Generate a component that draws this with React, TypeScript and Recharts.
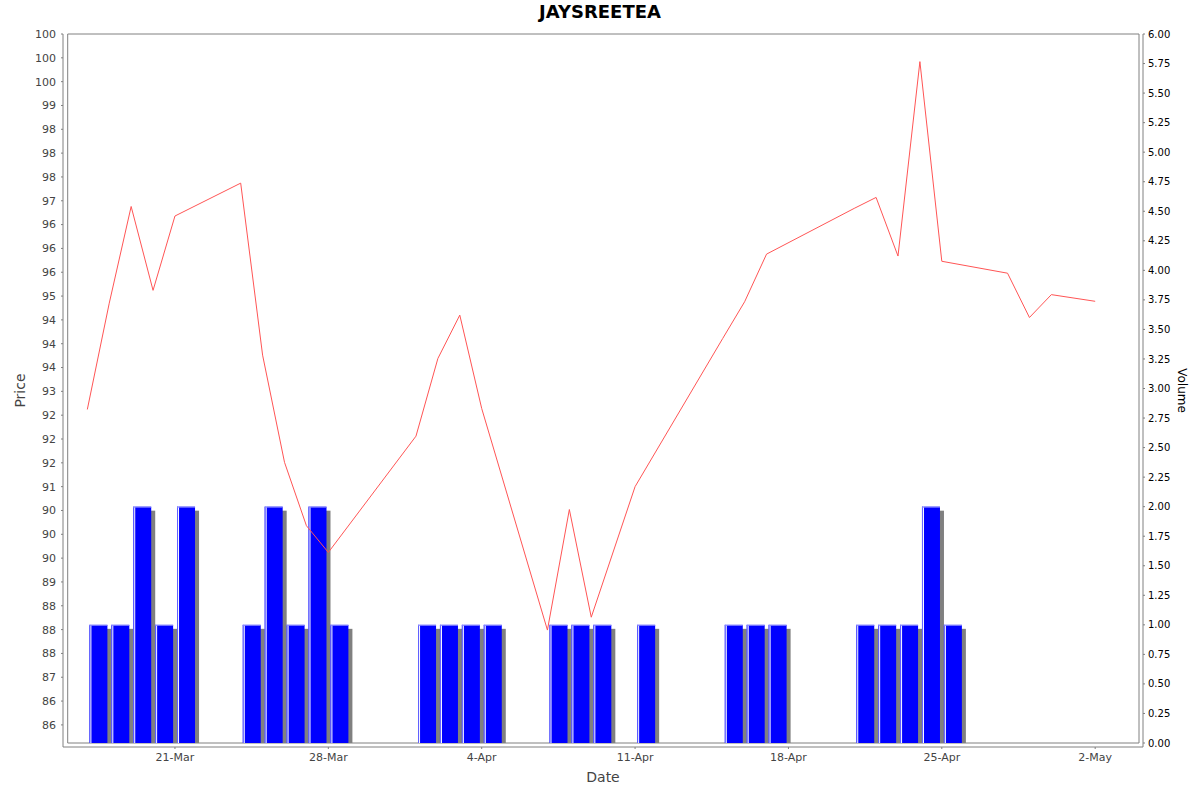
import { ComposedChart, Bar, Line, XAxis, YAxis, ReferenceArea } from 'recharts'

// trading days, closing price and volume
const DATES = [
  '2025-03-17', '2025-03-18', '2025-03-19', '2025-03-20', '2025-03-21',
  '2025-03-24', '2025-03-25', '2025-03-26', '2025-03-27', '2025-03-28',
  '2025-04-01', '2025-04-02', '2025-04-03', '2025-04-04',
  '2025-04-07', '2025-04-08', '2025-04-09', '2025-04-11',
  '2025-04-15', '2025-04-16', '2025-04-17',
  '2025-04-21', '2025-04-22', '2025-04-23', '2025-04-24', '2025-04-25',
  '2025-04-28', '2025-04-29', '2025-04-30', '2025-05-02',
]
const PRICES = [
  92.62, 94.85, 96.88, 95.12, 96.68,
  97.37, 93.76, 91.51, 90.18, 89.62,
  92.06, 93.69, 94.6, 92.64,
  87.99, 90.52, 88.26, 91.0,
  94.11, 94.88, 95.88,
  96.84, 97.07, 95.84, 99.92, 95.73,
  95.48, 94.55, 95.03, 94.89,
]
const VOLUMES = [
  1, 1, 2, 1, 2,
  1, 2, 1, 2, 1,
  1, 1, 1, 1,
  1, 1, 1, 1,
  1, 1, 1,
  1, 1, 1, 2, 1,
  0, 0, 0, 0,
]

const DATE_TICKS = ['2025-03-21', '2025-03-28', '2025-04-04', '2025-04-11', '2025-04-18', '2025-04-25', '2025-05-02']
const PRICE_TICKS = [
  86, 86.5, 87, 87.5, 88, 88.5, 89, 89.5, 90, 90.5, 91, 91.5, 92, 92.5, 93,
  93.5, 94, 94.5, 95, 95.5, 96, 96.5, 97, 97.5, 98, 98.5, 99, 99.5, 100, 100.5,
]
const VOLUME_TICKS = [
  0, 0.25, 0.5, 0.75, 1, 1.25, 1.5, 1.75, 2, 2.25, 2.5, 2.75, 3,
  3.25, 3.5, 3.75, 4, 4.25, 4.5, 4.75, 5, 5.25, 5.5, 5.75, 6,
]
const MONTHS = ['Jan', 'Feb', 'Mar', 'Apr', 'May', 'Jun', 'Jul', 'Aug', 'Sep', 'Oct', 'Nov', 'Dec']

const DAY = 86400000
const X_START = Date.parse('2025-03-16T02:30:00Z')
const X_END = Date.parse('2025-05-04T00:00:00Z')
const PRICE_MIN = 85.62
const PRICE_MAX = 100.5
const BAR_W = 18

const lineData = DATES.map((d, i) => ({ t: Date.parse(d), price: PRICES[i] }))
const barData = DATES.map((d, i) => ({ t: Date.parse(d) + DAY / 2, volume: VOLUMES[i] }))

function fmtDate(t: number) {
  const d = new Date(t)
  return `${d.getUTCDate()}-${MONTHS[d.getUTCMonth()]}`
}

// java DecimalFormat style: half-even rounding to whole numbers
function fmtPrice(v: number) {
  const f = Math.floor(v)
  if (Math.abs(v - f - 0.5) < 1e-9) return String(f % 2 === 0 ? f : f + 1)
  return String(Math.round(v))
}

// jfreechart-ish bar: shadow, thin highlight on the left and top
function VolumeBar(props: any) {
  const { x, y, width, height } = props
  if (!height || height <= 0) return <g />
  const bx = x + width / 2 - BAR_W / 2
  return (
    <g>
      <rect x={bx + 4} y={y + 4} width={BAR_W} height={height - 4} fill="#808080" />
      <rect x={bx} y={y} width={BAR_W} height={height} fill="#0000FF" />
      <rect x={bx} y={y} width={1} height={height} fill="#6666FF" />
      <rect x={bx + 1} y={y} width={1} height={height} fill="#FFFFFF" />
      <rect x={bx} y={y} width={BAR_W} height={1} fill="#8888FF" />
    </g>
  )
}

const gray = '#808080'

export default function App() {
  return (
    <div style={{ position: 'absolute', left: 0, top: 0, width: 1200, height: 792, background: '#fff', fontFamily: '"DejaVu Sans", sans-serif' }}>
      <div
        style={{
          position: 'absolute',
          top: 1,
          left: 0,
          width: 1200,
          textAlign: 'center',
          fontSize: 18,
          fontWeight: 'bold',
          color: '#000',
        }}
      >
        JAYSREETEA
      </div>
      <ComposedChart width={1200} height={792} data={barData} margin={{ top: 34, right: 0, bottom: 0, left: 0 }}>
        <XAxis
          dataKey="t"
          type="number"
          domain={[X_START, X_END]}
          allowDataOverflow
          ticks={DATE_TICKS.map((d) => Date.parse(d))}
          tickFormatter={fmtDate}
          padding={{ left: 4.7, right: 4 }}
          height={45}
          tick={{ fontSize: 11, fill: '#444' }}
          tickLine={{ stroke: gray }}
          axisLine={{ stroke: gray }}
          tickSize={2}
          tickMargin={4}
          label={{ value: 'Date', position: 'insideBottom', offset: 10, fontSize: 14, fill: '#444' }}
        />
        <YAxis
          yAxisId="price"
          domain={[PRICE_MIN, PRICE_MAX]}
          allowDataOverflow
          ticks={PRICE_TICKS}
          tickFormatter={fmtPrice}
          interval={0}
          padding={{ top: 0, bottom: 4 }}
          width={63}
          tick={{ fontSize: 11, fill: '#444' }}
          tickLine={{ stroke: gray }}
          axisLine={{ stroke: gray }}
          tickSize={2}
          tickMargin={5}
          label={{ value: 'Price', angle: -90, position: 'insideLeft', offset: 20, fontSize: 14, fill: '#444', style: { textAnchor: 'middle' } }}
        />
        <YAxis
          yAxisId="vol"
          orientation="right"
          domain={[0, 6]}
          allowDataOverflow
          ticks={VOLUME_TICKS}
          tickFormatter={(v: number) => v.toFixed(2)}
          interval={0}
          padding={{ top: 0, bottom: 4 }}
          width={57}
          tick={{ fontSize: 10, fill: '#000' }}
          tickLine={{ stroke: gray }}
          axisLine={{ stroke: gray }}
          tickSize={2}
          tickMargin={3}
          label={{ value: 'Volume', angle: 90, position: 'insideRight', offset: 18, fontSize: 12, fill: '#000', style: { textAnchor: 'middle' } }}
        />
        <ReferenceArea
          yAxisId="price"
          x1={X_START}
          x2={X_END}
          y1={PRICE_MIN}
          y2={PRICE_MAX}
          fill="#fff"
          fillOpacity={0}
          stroke={gray}
          strokeWidth={1}
        />
        <Bar yAxisId="vol" dataKey="volume" shape={VolumeBar} isAnimationActive={false} />
        <Line
          yAxisId="price"
          data={lineData}
          dataKey="price"
          type="linear"
          stroke="#FF5555"
          strokeWidth={1}
          dot={false}
          activeDot={false}
          isAnimationActive={false}
        />
      </ComposedChart>
    </div>
  )
}
